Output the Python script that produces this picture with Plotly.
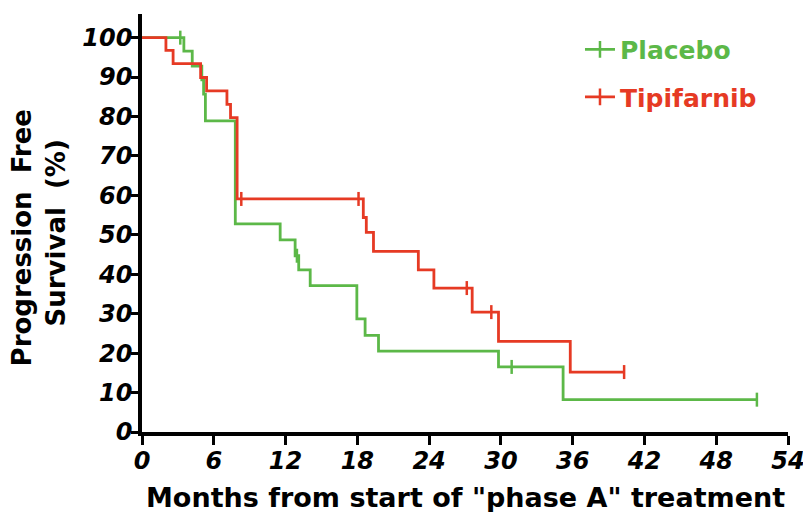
#!/usr/bin/env python3
"""Kaplan-Meier PFS: placebo vs tipifarnib"""
import plotly.graph_objects as go

# step points (months, % progression free)
placebo_t = [0, 3.5, 4.2, 5.0, 5.15, 5.3, 7.8, 11.55, 12.8, 13.1, 14.06, 17.96, 18.65, 19.77, 29.8, 35.2, 51.4]
placebo_s = [100, 96.6, 92.8, 89.3, 85.7, 78.9, 52.8, 48.7, 44.7, 41.1, 37.1, 28.7, 24.5, 20.5, 16.5, 8.2, 8.2]
placebo_cens_t = [3.2, 12.95, 30.9, 51.4]
placebo_cens_s = [100, 44.7, 16.5, 8.2]

tipi_t = [0, 2.0, 2.6, 4.9, 5.4, 7.1, 7.4, 7.95, 18.5, 18.75, 19.35, 23.1, 24.4, 27.6, 29.8, 35.8, 40.3]
tipi_s = [100, 96.8, 93.4, 89.9, 86.5, 83.1, 79.7, 59.1, 54.4, 50.6, 45.8, 41.1, 36.5, 30.4, 23.0, 15.2, 15.2]
tipi_cens_t = [8.3, 18.1, 27.15, 29.2, 40.3]
tipi_cens_s = [59.1, 59.1, 36.5, 30.4, 15.2]

x_ticks = [0, 6, 12, 18, 24, 30, 36, 42, 48, 54]
y_ticks = [0, 10, 20, 30, 40, 50, 60, 70, 80, 90, 100]

GREEN = '#5cb848'
RED = '#e63a24'
FONT = 'DejaVu Sans'

fig = go.Figure()

for name, t, s, ct, cs, col in [
    ('Placebo', placebo_t, placebo_s, placebo_cens_t, placebo_cens_s, GREEN),
    ('Tipifarnib', tipi_t, tipi_s, tipi_cens_t, tipi_cens_s, RED),
]:
    fig.add_trace(go.Scatter(
        x=t, y=s, mode='lines', line=dict(color=col, width=2.8, shape='hv'),
        showlegend=False, cliponaxis=False,
    ))
    fig.add_trace(go.Scatter(
        x=ct, y=cs, mode='markers', showlegend=False, cliponaxis=False,
        marker=dict(symbol='line-ns', size=10, line=dict(color=col, width=2.5)),
    ))
    # legend entry only
    fig.add_trace(go.Scatter(
        x=[None], y=[None], mode='lines+markers', legendgroup=name,
        name=f'<span style="color:{col}">{name}</span>',
        line=dict(color=col, width=2.8),
        marker=dict(symbol='line-ns', size=12, line=dict(color=col, width=2.5)),
    ))

axis_common = dict(
    showline=True, linecolor='black', linewidth=3.5,
    ticks='outside', tickwidth=3, tickcolor='black',
    showgrid=False, zeroline=False,
    tickfont=dict(family=FONT, size=24, color='black', weight='bold', style='italic'),
)

fig.update_xaxes(
    range=[0, 54], tickvals=x_ticks, ticklen=9, ticklabelstandoff=-5, **axis_common,
)
fig.update_yaxes(range=[0, 106], tickvals=y_ticks, ticklen=7, ticklabelstandoff=-6, **axis_common)

# axis titles
fig.add_annotation(text='Months from start of "phase A" treatment', xref='paper', yref='paper',
                   x=0.5, y=-0.157, xanchor='center', yanchor='middle', showarrow=False,
                   font=dict(family=FONT, size=27, color='black', weight='bold'))
fig.add_annotation(text='Progression\u00a0 Free', textangle=-90, xref='paper', yref='paper',
                   x=-0.1852, y=0.464, xanchor='center', yanchor='middle', showarrow=False,
                   font=dict(family=FONT, size=26, color='black', weight='bold'))
fig.add_annotation(text='Survival\u00a0 (%)', textangle=-90, xref='paper', yref='paper',
                   x=-0.1331, y=0.475, xanchor='center', yanchor='middle', showarrow=False,
                   font=dict(family=FONT, size=26, color='black', weight='bold'))

# page body has an 8px margin, so the figure is 8px smaller than the window
fig.update_layout(
    width=803, height=504,
    margin=dict(l=134, r=23, t=6, b=80),
    plot_bgcolor='white', paper_bgcolor='white',
    legend=dict(x=0.678, y=0.970, xanchor='left', yanchor='top',
                font=dict(family=FONT, size=25, weight='bold'),
                tracegroupgap=12, traceorder='grouped', bgcolor='rgba(0,0,0,0)'),
)

fig.write_html('out.html')
